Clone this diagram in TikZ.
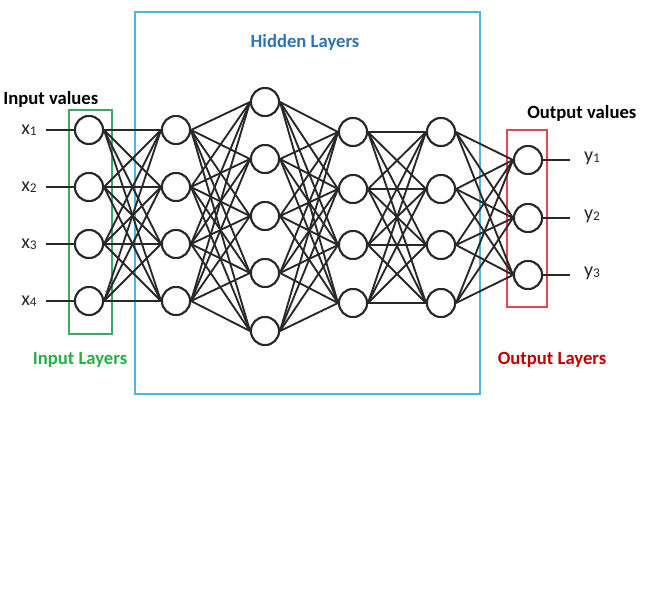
\documentclass[tikz,border=0pt]{standalone}
\usepackage{fontspec}
\setmainfont{Carlito}
\definecolor{ingreen}{RGB}{60,170,100}
\definecolor{intext}{RGB}{40,175,70}
\definecolor{hidbox}{RGB}{80,180,220}
\definecolor{hidtext}{RGB}{46,117,182}
\definecolor{outbox}{RGB}{230,70,80}
\definecolor{outtext}{RGB}{192,0,0}
\definecolor{ink}{RGB}{40,40,40}
\newcommand{\lowsub}[1]{\raisebox{-0.15ex}{\fontsize{10pt}{12pt}\selectfont #1}}
\begin{document}
\begin{tikzpicture}[x=0.75pt,y=-0.75pt,
  neuron/.style={circle,draw=ink,line width=1.5pt,fill=white,minimum size=21pt,inner sep=0pt},
  edge/.style={draw=ink,line width=1.4pt},
  title/.style={font=\fontsize{14pt}{16pt}\selectfont\bfseries},
  var/.style={font=\fontsize{15pt}{17pt}\selectfont,text=ink}]
\fill[white] (0,0) rectangle (645,600);
\useasboundingbox (0,0) rectangle (645,600);
% boxes
\draw[hidbox,line width=1.2pt] (135,12) rectangle (480,394);
\draw[ingreen,line width=1.2pt] (69,110) rectangle (112,334);
\draw[outbox,line width=1.2pt] (507,130) rectangle (547,307);
% nodes
\foreach \i/\y in {1/130,2/187,3/244,4/301} \node[neuron] (I\i) at (89,\y) {};
\foreach \i/\y in {1/130,2/187,3/244,4/301} \node[neuron] (A\i) at (176,\y) {};
\foreach \i/\y in {1/102,2/159,3/216,4/273,5/331} \node[neuron] (B\i) at (265,\y) {};
\foreach \i/\y in {1/132,2/189,3/245,4/303} \node[neuron] (C\i) at (353,\y) {};
\foreach \i/\y in {1/132,2/189,3/245,4/303} \node[neuron] (D\i) at (441,\y) {};
\foreach \i/\y in {1/160,2/218,3/275} \node[neuron] (O\i) at (528,\y) {};
% edges
\foreach \i in {1,...,4} \foreach \j in {1,...,4} \draw[edge] (I\i.east) -- (A\j.west);
\foreach \i in {1,...,4} \foreach \j in {1,...,5} \draw[edge] (A\i.east) -- (B\j.west);
\foreach \i in {1,...,5} \foreach \j in {1,...,4} \draw[edge] (B\i.east) -- (C\j.west);
\foreach \i in {1,...,4} \foreach \j in {1,...,4} \draw[edge] (C\i.east) -- (D\j.west);
\foreach \i in {1,...,4} \foreach \j in {1,...,3} \draw[edge] (D\i.east) -- (O\j.west);
% redraw nodes on top
\foreach \y in {130,187,244,301} \node[neuron] at (89,\y) {};
\foreach \y in {130,187,244,301} \node[neuron] at (176,\y) {};
\foreach \y in {102,159,216,273,331} \node[neuron] at (265,\y) {};
\foreach \y in {132,189,245,303} \node[neuron] at (353,\y) {};
\foreach \y in {132,189,245,303} \node[neuron] at (441,\y) {};
\foreach \y in {160,218,275} \node[neuron] at (528,\y) {};
% inputs
\foreach \i/\y in {1/130,2/187,3/244,4/301} {
  \node[var] (x\i) at (29,\y) {x\lowsub{\i}};
  \coordinate (xs\i) at (46,\y);
  \draw[edge] (xs\i) -- (I\i.west);
}
% outputs
\foreach \i/\y in {1/160,2/218,3/275} {
  \node[var] (y\i) at (592,\y-2) {y\lowsub{\i}};
  \coordinate (ye\i) at (570,\y);
  \draw[edge] (O\i.east) -- (ye\i);
}
% titles
\node[title,anchor=west,inner sep=0pt] (inval) at (3,99) {Input values};
\node[title,anchor=west,inner sep=0pt] (outval) at (527,113) {Output values};
\node[title,text=hidtext] (hid) at (305,42) {Hidden Layers};
\node[title,text=intext] (inl) at (80,360) {Input Layers};
\node[title,text=outtext] (outl) at (552,360) {Output Layers};
\end{tikzpicture}
\end{document}
